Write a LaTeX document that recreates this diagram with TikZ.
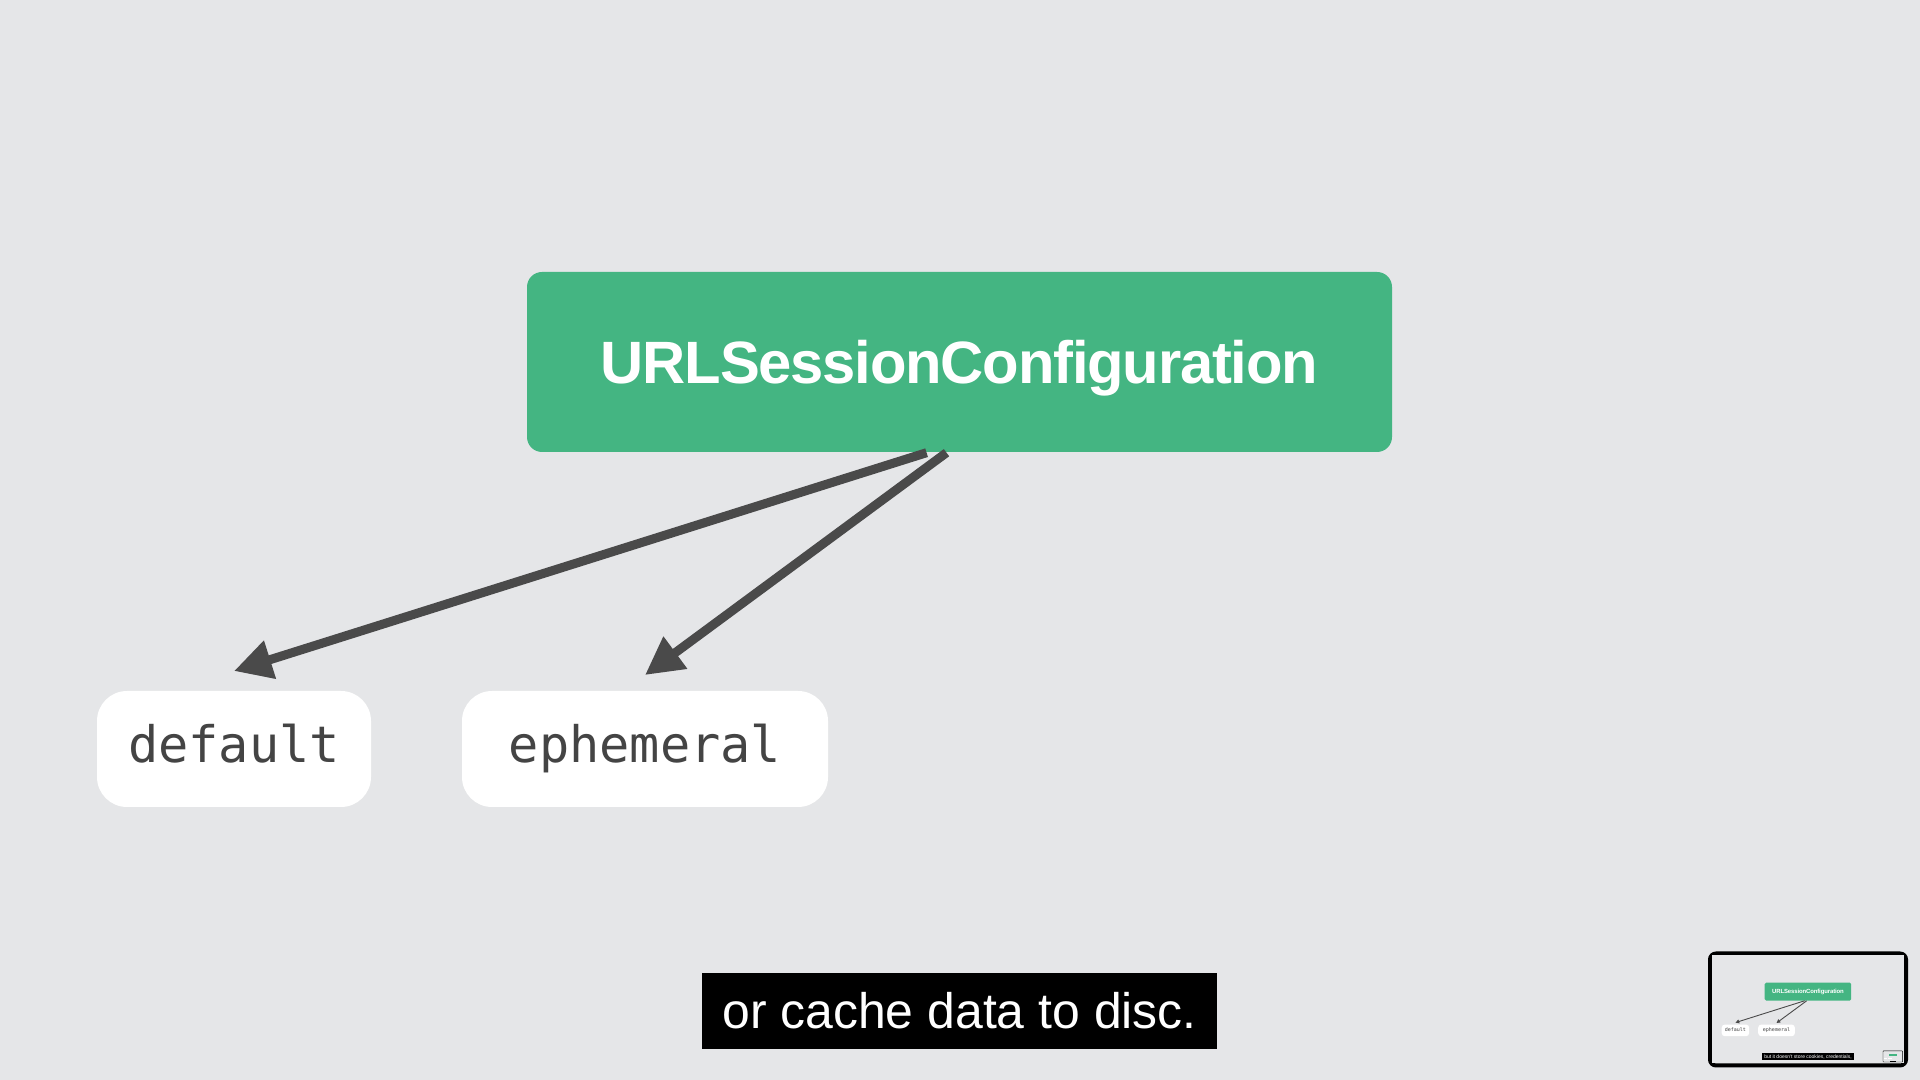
\documentclass[tikz,border=0pt]{standalone}
\usepackage{fontspec}
\setmainfont{Liberation Sans}
\setmonofont{DejaVu Sans Mono}
\newfontfamily\titlefont[LetterSpace=-2]{Liberation Sans}
\usetikzlibrary{arrows.meta,calc,positioning}
\definecolor{slidebg}{RGB}{229,230,232}
\definecolor{cfggreen}{RGB}{68,181,130}
\definecolor{arrowgray}{RGB}{74,74,74}
\definecolor{monogray}{RGB}{68,68,68}
\tikzset{
  cfgbox/.style={fill=cfggreen,text=white,minimum width=8.65cm,minimum height=1.8cm,inner sep=0pt,
    text depth=0pt,font=\titlefont\bfseries\fontsize{17}{20}\selectfont},
  keybox/.style={fill=white,text=monogray,minimum height=1.16cm,inner sep=0pt,
    text height=0.76em,text depth=0pt,font=\ttfamily\fontsize{14.3}{16}\selectfont},
  pointer/.style={draw=arrowgray,-{Triangle[length=0pt 4.2,width=0pt 4.2]}},
  subtitle/.style={fill=black,text=white,minimum height=0.76cm,inner xsep=0.2cm,inner ysep=0pt,
    font=\fontsize{14.2}{16}\selectfont},
  thumbframe/.style={draw=black}
}
% #1 caption, #2 scale of the slide
\newcommand\drawslide[2]{%
  \fill[slidebg] (0,0) rectangle (19.2,10.8);
  \node[cfgbox,rounded corners=#2*0.15cm] (cfg) at (9.595,7.18) {URLSessionConfiguration};
  \node[keybox,minimum width=2.74cm,rounded corners=#2*0.3cm] (default) at (2.34,3.31) {default};
  \node[keybox,minimum width=3.66cm,rounded corners=#2*0.3cm] (ephemeral) at (6.45,3.31) {ephemeral};
  \draw[pointer,line width=#2*0.09cm] ($(cfg.south west)!0.462!(cfg.south east)$) -- ($(default.north)!-0.164!(default.south)$);
  \draw[pointer,line width=#2*0.09cm] ($(cfg.south west)!0.485!(cfg.south east)$) -- ($(ephemeral.north)!-0.13!(ephemeral.south)$);
  \node[subtitle] (caption) at (9.595,0.69) {#1};
  \draw[thumbframe,line width=#2*0.04cm,rounded corners=#2*0.06cm] (17.10,0.145) rectangle (19.06,1.265);
}

\begin{document}
\begin{tikzpicture}
  \useasboundingbox (0,0) rectangle (19.2,10.8);
  \drawslide{or cache data to disc.}{1}
  % the thumbnail
  \begin{scope}[shift={(17.12,0.165)},scale=0.1,transform shape,name prefix=mini-]
    \drawslide{but it doesn't store cookies, credentials,}{0.1}
    \fill[cfggreen] (17.647,0.793) rectangle (18.512,0.973);
    \fill[white] (17.217,0.438) rectangle (17.491,0.554);
    \fill[white] (17.582,0.438) rectangle (17.948,0.554);
    \fill[black] (17.80,0.196) rectangle (18.35,0.272);
  \end{scope}
\end{tikzpicture}
\end{document}
